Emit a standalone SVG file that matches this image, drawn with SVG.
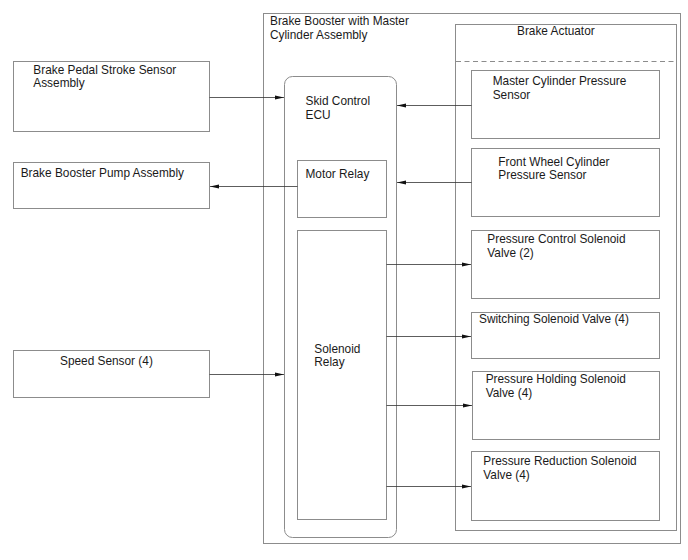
<svg xmlns="http://www.w3.org/2000/svg" width="688" height="560" viewBox="0 0 688 560">
<defs>
<marker id="ah" markerWidth="9" markerHeight="5" refX="9" refY="2.5" orient="auto" markerUnits="userSpaceOnUse">
<path d="M0,0.5 L9,2.5 L0,4.5 Z" fill="#111"/>
</marker>
<style>
.box{fill:#fff;stroke:#8c8c8c;stroke-width:1}
.frame{fill:none;stroke:#8c8c8c;stroke-width:1}
.dash{fill:none;stroke:#8c8c8c;stroke-width:1;stroke-dasharray:5,3.5}
.t{font-family:"Liberation Sans",Arial,sans-serif;font-size:11.85px;fill:#1a1a1a}
.c{fill:none;stroke:#333;stroke-width:0.8;marker-end:url(#ah)}
</style>
</defs>
<rect width="688" height="560" fill="#fff"/>

<g id="brake-booster-assembly">
<rect class="frame" x="263.5" y="13.5" width="417" height="530"/>
<text class="t" x="270" y="24.7">Brake Booster with Master</text>
<text class="t" x="270" y="38.7">Cylinder Assembly</text>
</g>

<g id="brake-actuator">
<rect class="frame" x="455.5" y="24.5" width="221" height="506"/>
<line class="dash" x1="456" y1="61.5" x2="676" y2="61.5"/>
<text class="t" x="517" y="35">Brake Actuator</text>
</g>

<g id="skid-control-ecu">
<rect class="frame" x="284.5" y="76.5" width="112" height="461" rx="8" ry="8"/>
<text class="t" x="305.5" y="105.3">Skid Control</text>
<text class="t" x="305.5" y="118.7">ECU</text>
</g>

<g id="motor-relay">
<rect class="box" x="297.5" y="160.5" width="89" height="57"/>
<text class="t" x="305.5" y="178.3">Motor Relay</text>
</g>

<g id="solenoid-relay">
<rect class="box" x="297.5" y="230.5" width="89" height="289"/>
<text class="t" x="314.3" y="352.7">Solenoid</text>
<text class="t" x="314.3" y="366">Relay</text>
</g>

<g id="brake-pedal-stroke-sensor">
<rect class="box" x="13.5" y="61.5" width="196" height="70"/>
<text class="t" x="33.3" y="74">Brake Pedal Stroke Sensor</text>
<text class="t" x="33.3" y="87.3">Assembly</text>
</g>

<g id="brake-booster-pump">
<rect class="box" x="13.5" y="162.5" width="196" height="46"/>
<text class="t" x="20.7" y="176.7">Brake Booster Pump Assembly</text>
</g>

<g id="speed-sensor">
<rect class="box" x="13.5" y="350.5" width="196" height="47"/>
<text class="t" x="60" y="365">Speed Sensor (4)</text>
</g>

<g id="master-cylinder-pressure-sensor">
<rect class="box" x="471.5" y="70.5" width="188" height="68"/>
<text class="t" x="492.7" y="85">Master Cylinder Pressure</text>
<text class="t" x="492.7" y="99">Sensor</text>
</g>

<g id="front-wheel-cylinder-pressure-sensor">
<rect class="box" x="471.5" y="148.5" width="188" height="68"/>
<text class="t" x="498.3" y="165.7">Front Wheel Cylinder</text>
<text class="t" x="498.3" y="179">Pressure Sensor</text>
</g>

<g id="pressure-control-solenoid-valve">
<rect class="box" x="471.5" y="230.5" width="188" height="68"/>
<text class="t" x="487.3" y="242.7">Pressure Control Solenoid</text>
<text class="t" x="487.3" y="256.7">Valve (2)</text>
</g>

<g id="switching-solenoid-valve">
<rect class="box" x="471.5" y="312.5" width="188" height="46"/>
<text class="t" x="479" y="323.3">Switching Solenoid Valve (4)</text>
</g>

<g id="pressure-holding-solenoid-valve">
<rect class="box" x="472.5" y="371.5" width="187" height="68"/>
<text class="t" x="485.7" y="383.3">Pressure Holding Solenoid</text>
<text class="t" x="485.7" y="397.3">Valve (4)</text>
</g>

<g id="pressure-reduction-solenoid-valve">
<rect class="box" x="471.5" y="451.5" width="188" height="69"/>
<text class="t" x="483.3" y="465">Pressure Reduction Solenoid</text>
<text class="t" x="483.3" y="479">Valve (4)</text>
</g>

<g id="connectors">
<line class="c" x1="209.5" y1="97.5" x2="284" y2="97.5"/>
<line class="c" x1="297.5" y1="186.5" x2="210" y2="186.5"/>
<line class="c" x1="209.5" y1="374.5" x2="284" y2="374.5"/>
<line class="c" x1="471.5" y1="105.5" x2="397" y2="105.5"/>
<line class="c" x1="471.5" y1="182.5" x2="397" y2="182.5"/>
<line class="c" x1="386.5" y1="264.5" x2="471" y2="264.5"/>
<line class="c" x1="386.5" y1="336.5" x2="471" y2="336.5"/>
<line class="c" x1="386.5" y1="405.5" x2="472" y2="405.5"/>
<line class="c" x1="386.5" y1="486.5" x2="471" y2="486.5"/>
</g>
</svg>
